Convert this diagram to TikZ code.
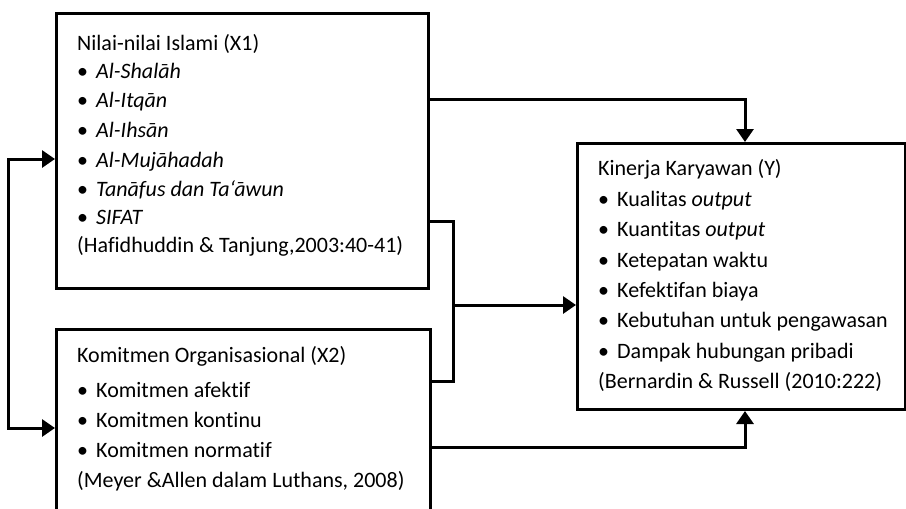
\documentclass[tikz,border=0pt]{standalone}
\usepackage{fontspec}
\setmainfont{Carlito}[Ligatures=NoCommon]
\usetikzlibrary{arrows.meta}
\begin{document}
\begin{tikzpicture}[x=1pt,y=-1pt,
  box/.style={draw, line width=3pt, inner sep=0pt, anchor=north west},
  conn/.style={line width=3pt},
  arr/.style={conn, -{Triangle[length=13pt,width=17pt]}},
  txt/.style={anchor=base west, inner sep=0pt, font=\fontsize{22}{26}\selectfont}]
\useasboundingbox (0,0) rectangle (906,509);
\clip (0,0) rectangle (906,509);
\newcommand{\bul}{\makebox[19pt][l]{•}}
% boxes
\node[box, minimum width=372pt, minimum height=275pt] (x1) at (55,12) {};
\node[box, minimum width=374pt, minimum height=200pt] (x2) at (55,328) {};
\node[box, minimum width=328pt, minimum height=266pt] (y) at (576,142) {};
% X1 text
\node[txt] (a0) at (77,50) {Nilai-nilai Islami (X1)};
\node[txt] (a1) at (77,78) {\bul\textit{Al-Shalāh}};
\node[txt] (a2) at (77,107) {\bul\textit{Al-Itqān}};
\node[txt] (a3) at (77,137) {\bul\textit{Al-Ihsān}};
\node[txt] (a4) at (77,167) {\bul\textit{Al-Mujāhadah}};
\node[txt] (a5) at (77,196) {\bul\textit{Tanāfus dan Ta‘āwun}};
\node[txt] (a6) at (77,224) {\bul\textit{SIFAT}};
\node[txt] (a7) at (77,252) {(Hafidhuddin \& Tanjung,2003:40-41)};
% X2 text
\node[txt] (b0) at (77,362) {Komitmen Organisasional (X2)};
\node[txt] (b1) at (77,397) {\bul Komitmen afektif};
\node[txt] (b2) at (77,427) {\bul Komitmen kontinu};
\node[txt] (b3) at (77,457) {\bul Komitmen normatif};
\node[txt] (b4) at (77,487) {(Meyer \&Allen dalam Luthans, 2008)};
% Y text
\node[txt] (c0) at (598,175) {Kinerja Karyawan (Y)};
\node[txt] (c1) at (598,206) {\bul Kualitas \textit{output}};
\node[txt] (c2) at (598,236) {\bul Kuantitas \textit{output}};
\node[txt] (c3) at (598,267) {\bul Ketepatan waktu};
\node[txt] (c4) at (598,297) {\bul Kefektifan biaya};
\node[txt] (c5) at (598,327) {\bul Kebutuhan untuk pengawasan};
\node[txt] (c6) at (598,358) {\bul Dampak hubungan pribadi};
\node[txt] (c7) at (598,388) {(Bernardin \& Russell (2010:222)};
% connector coordinates
\coordinate (p1) at (745,99);
\coordinate (q1) at (453,221);
\coordinate (q2) at (453,381);
\coordinate (qm) at (453,305);
\coordinate (p3) at (745,447);
\coordinate (l1) at (8,159);
\coordinate (l2) at (8,428);
% connectors
\draw[arr] (x1.east |- p1) -- (p1) -- (y.north -| p1);
\draw[conn] (x1.east |- q1) -- (q1) -- (q2) -- (x2.east |- q2);
\draw[arr] (qm) -- (y.west |- qm);
\draw[arr] (x2.east |- p3) -- (p3) -- (y.south -| p3);
\draw[conn, {Triangle[length=13pt,width=17pt]}-{Triangle[length=13pt,width=17pt]}] (x1.west |- l1) -- (l1) -- (l2) -- (x2.west |- l2);
\end{tikzpicture}
\end{document}
